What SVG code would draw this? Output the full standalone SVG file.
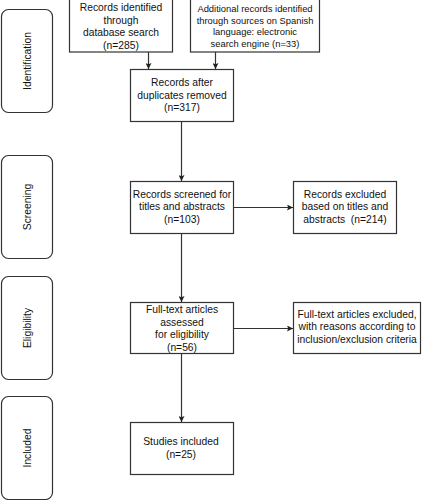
<svg xmlns="http://www.w3.org/2000/svg" width="423" height="500" viewBox="0 0 423 500">
<defs>
<marker id="ah" viewBox="0 0 10 10" refX="10" refY="5" markerWidth="6" markerHeight="6" markerUnits="userSpaceOnUse" orient="auto">
<path d="M0,0 L10,5 L0,10 L2,5 Z" fill="#222"/>
</marker>
</defs>
<style>
.box{fill:#fff;stroke:#333;stroke-width:1.2}
.side{fill:#fff;stroke:#333;stroke-width:1.2}
text{font-family:"Liberation Sans",Arial,sans-serif;font-size:10.3px;fill:#111;text-anchor:middle}
.sm{font-size:9.4px}
.con{stroke:#333;stroke-width:1.2;fill:none;marker-end:url(#ah)}
</style>
<rect width="423" height="500" fill="#fff"/>
<g id="stage-identification"><rect class="side" x="1.5" y="9.5" width="51" height="103" rx="7"/><text transform="translate(30.5,61) rotate(-90)">Identification</text></g>
<g id="stage-screening"><rect class="side" x="1.5" y="155.5" width="51" height="103" rx="7"/><text transform="translate(30.5,207) rotate(-90)">Screening</text></g>
<g id="stage-eligibility"><rect class="side" x="1.5" y="276.5" width="51" height="103" rx="7"/><text transform="translate(30.5,328) rotate(-90)">Eligibility</text></g>
<g id="stage-included"><rect class="side" x="1.5" y="396.5" width="51" height="103" rx="7"/><text transform="translate(30.5,448) rotate(-90)">Included</text></g>

<g id="n-db"><rect class="box" x="69.5" y="-1" width="103" height="53"/>
<text x="121" y="11">Records identified</text><text x="121" y="23.6">through</text><text x="121" y="36.2">database search</text><text x="121" y="48.8">(n=285)</text></g>
<g id="n-other"><rect class="box" x="190.5" y="-1" width="129" height="53"/>
<text class="sm" x="255" y="11.8">Additional records identified</text><text class="sm" x="255" y="23.5">through sources on Spanish</text><text class="sm" x="255" y="35.2">language: electronic</text><text class="sm" x="255" y="46.9">search engine (n=33)</text></g>
<g id="n-dup"><rect class="box" x="130.5" y="69.5" width="103" height="52"/>
<text x="182" y="86">Records after</text><text x="182" y="98.7">duplicates removed</text><text x="182" y="111.4">(n=317)</text></g>
<g id="n-screen"><rect class="box" x="130.5" y="181.5" width="103" height="52"/>
<text x="182" y="197.7">Records screened for</text><text x="182" y="210.4">titles and abstracts</text><text x="182" y="223.1">(n=103)</text></g>
<g id="n-excl1"><rect class="box" x="293.5" y="181.5" width="103" height="52"/>
<text x="345" y="197.7">Records excluded</text><text x="345" y="210.4">based on titles and</text><text x="345" y="223.1" xml:space="preserve">abstracts  (n=214)</text></g>
<g id="n-full"><rect class="box" x="130.5" y="302.5" width="103" height="51"/>
<text x="182" y="313">Full-text articles</text><text x="182" y="325.5">assessed</text><text x="182" y="338">for eligibility</text><text x="182" y="350.5">(n=56)</text></g>
<g id="n-excl2"><rect class="box" x="293.5" y="302.5" width="127" height="51"/>
<text x="357" y="317.5">Full-text articles excluded,</text><text x="357" y="330.2">with reasons according to</text><text x="357" y="342.9">inclusion/exclusion criteria</text></g>
<g id="n-incl"><rect class="box" x="130.5" y="422.5" width="103" height="52"/>
<text x="181" y="445">Studies included</text><text x="181" y="458.3">(n=25)</text></g>

<g id="connectors">
<line class="con" x1="148.5" y1="52" x2="148.5" y2="69"/>
<line class="con" x1="215.5" y1="52" x2="215.5" y2="69"/>
<line class="con" x1="181.5" y1="121.5" x2="181.5" y2="181"/>
<line class="con" x1="233.5" y1="207.5" x2="293" y2="207.5"/>
<line class="con" x1="181.5" y1="233.5" x2="181.5" y2="302"/>
<line class="con" x1="233.5" y1="328.5" x2="293" y2="328.5"/>
<line class="con" x1="181.5" y1="353.5" x2="181.5" y2="422"/>
</g>
</svg>
